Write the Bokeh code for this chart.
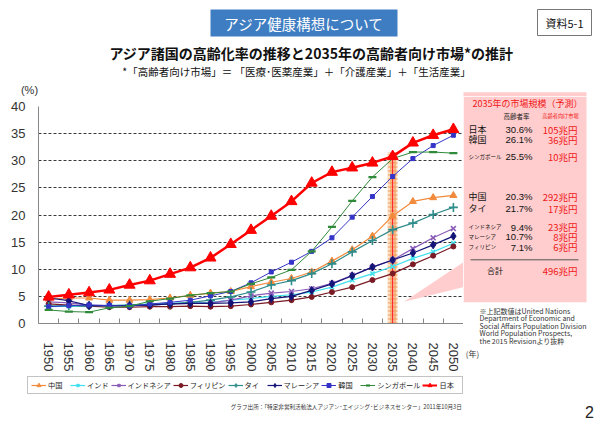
from bokeh.plotting import figure
from bokeh.layouts import column, row
from bokeh.models import (FixedTicker, Label, Legend, LegendItem, Range1d, ColumnDataSource)
from bokeh.embed import file_html
from bokeh.resources import INLINE

# ---------------- data ----------------
years = [1950, 1955, 1960, 1965, 1970, 1975, 1980, 1985, 1990, 1995, 2000,
         2005, 2010, 2015, 2020, 2025, 2030, 2035, 2040, 2045, 2050]
china = [4.5, 4.7, 4.7, 4.3, 4.3, 4.4, 4.7, 5.2, 5.6, 5.9, 6.8, 7.6, 8.3, 9.5, 11.5, 13.6, 16.1, 19.8, 22.5, 23.2, 23.6]
india = [3.1, 3.2, 3.1, 3.3, 3.4, 3.6, 3.7, 3.8, 3.9, 4.3, 4.6, 5.0, 5.3, 5.8, 6.7, 8.0, 9.2, 10.5, 12.0, 13.2, 14.8]
indonesia = [4.0, 3.8, 3.4, 3.3, 3.3, 3.4, 3.6, 3.7, 3.8, 4.3, 5.1, 5.6, 5.9, 6.4, 7.4, 8.9, 10.4, 11.7, 13.8, 15.8, 17.5]
philippines = [3.6, 3.4, 3.2, 3.0, 3.0, 3.1, 3.1, 3.2, 3.1, 3.2, 3.5, 3.9, 4.3, 4.9, 5.8, 6.7, 8.0, 9.2, 10.9, 12.5, 14.2]
thailand = [3.2, 3.3, 3.3, 3.3, 3.4, 3.5, 3.6, 3.9, 4.3, 4.9, 5.8, 7.1, 7.9, 9.2, 11.0, 13.2, 15.3, 17.3, 18.5, 20.1, 21.4]
malaysia = [4.7, 4.2, 3.3, 3.3, 3.3, 3.4, 3.6, 3.7, 3.7, 3.8, 4.0, 4.6, 5.0, 6.1, 7.3, 8.8, 10.4, 11.7, 13.0, 14.5, 16.1]
korea = [3.1, 3.3, 3.4, 3.3, 3.2, 3.6, 3.9, 4.3, 5.1, 5.9, 7.5, 9.5, 11.3, 13.3, 15.8, 19.6, 23.4, 27.1, 30.4, 32.8, 34.7]
singapore = [2.5, 2.2, 2.1, 2.9, 3.2, 4.1, 4.6, 5.2, 5.6, 5.9, 7.3, 8.5, 9.9, 13.3, 17.8, 22.6, 27.0, 30.4, 31.6, 31.6, 31.4]
japan = [4.9, 5.3, 5.7, 6.2, 7.1, 7.9, 9.1, 10.3, 12.1, 14.6, 17.2, 19.8, 22.5, 25.9, 27.9, 28.7, 29.6, 30.8, 33.3, 34.7, 35.8]

y_ticks = [0, 5, 10, 15, 20, 25, 30, 35, 40]
highlight_year = 2035

table_names = ["日本", "韓国", "シンガポール", "中国", "タイ", "インドネシア", "マレーシア", "フィリピン"]
table_rates = ["30.6%", "26.1%", "25.5%", "20.3%", "21.7%", "9.4%", "10.7%", "7.1%"]
table_market = ["105兆円", "36兆円", "10兆円", "292兆円", "17兆円", "23兆円", "8兆円", "6兆円"]
table_total = "496兆円"

series = [
    ("中国", china, "#F28A3C", "triangle", 7, 1.2),
    ("インド", india, "#3FE0EE", "x", 6, 1.2),
    ("インドネシア", indonesia, "#8A5CB8", "x", 7, 1.2),
    ("フィリピン", philippines, "#7A1A24", "circle", 5, 1.2),
    ("タイ", thailand, "#2E8C8A", "cross", 9, 1.2),
    ("マレーシア", malaysia, "#141478", "diamond", 8, 1.2),
    ("韓国", korea, "#3434C8", "square", 4, 1.0),
    ("シンガポール", singapore, "#2F8A3A", "dash", 8, 1.0),
    ("日本", japan, "#FF0000", "triangle", 11, 2.5),
]

JP = "Noto Sans CJK JP"
PINK = "#FFCDCD"
RED = "#F01818"

# page split
PW, PH = 600, 424
TOP_H = 96            # header strip
MID_H = 278           # chart strip
BOT_H = PH - TOP_H - MID_H
CHART_W = 463


def deco(w, h):
    f = figure(width=w, height=h, output_backend="svg", toolbar_location=None,
               x_range=Range1d(0, w), y_range=Range1d(h, 0), min_border=0,
               x_axis_type=None, y_axis_type=None, title=None)
    f.outline_line_color = None
    f.background_fill_color = "white"
    f.border_fill_color = "white"
    f.frame_align = False
    return f


def lab(f, text, x, y, size, color="#000000", align="left", font=JP, style="normal"):
    f.add_layout(Label(x=x, y=y, text=text, text_font=font, text_font_size=size,
                       text_color=color, text_align=align, text_baseline="middle",
                       text_font_style=style))


# ---------------- header ----------------
hd = deco(PW, TOP_H)
hd.quad(left=[210], right=[397], top=[9], bottom=[36], fill_color="#3E7DC2", line_color=None)
lab(hd, "アジア健康構想について", 303.5, 22.5, "14.5px", "white", "center")
hd.quad(left=[537], right=[591], top=[9], bottom=[35], fill_color="white", line_color="#777777")
lab(hd, "資料5-1", 564, 22, "11px", "#111111", "center")
lab(hd, "アジア諸国の高齢化率の推移と2035年の高齢者向け市場*の推計", 311, 52, "14px",
    "#111111", "center", style="bold")
lab(hd, "*「高齢者向け市場」＝ 「医療･医薬産業」＋「介護産業」＋「生活産業」", 296, 71,
    "10.5px", "#111111", "center")
lab(hd, "(%)", 29, 89, "11px", "#333333", "center", font="Liberation Sans")
hd.quad(left=[CHART_W], right=[586], top=[91.7], bottom=[TOP_H], fill_color=PINK, line_color=None)

# ---------------- chart ----------------
p = figure(width=CHART_W, height=MID_H, output_backend="svg", toolbar_location=None,
           x_range=Range1d(1947.5, 2052.5), y_range=Range1d(0, 40), title=None,
           min_border_left=38, min_border_right=0, min_border_top=10,
           min_border_bottom=51)
p.frame_align = False
p.outline_line_color = None
p.background_fill_color = "white"
p.border_fill_color = "white"

p.xgrid.grid_line_color = None
p.yaxis.ticker = FixedTicker(ticks=y_ticks)
p.ygrid.grid_line_color = "#3a3a3a"
p.ygrid.grid_line_dash = "3 2"
p.ygrid.grid_line_width = 1

p.yaxis.axis_line_color = "#888888"
p.yaxis.major_tick_line_color = None
p.yaxis.minor_tick_line_color = None
p.yaxis.major_label_text_font = "Liberation Sans"
p.yaxis.major_label_text_font_size = "13px"
p.yaxis.major_label_text_color = "#333333"
p.yaxis.major_label_standoff = 7

boundaries = [y - 2.5 for y in years] + [years[-1] + 2.5]
p.xaxis.ticker = FixedTicker(ticks=years, minor_ticks=boundaries)
p.xaxis.axis_line_color = "#888888"
p.xaxis.major_tick_line_color = None
p.xaxis.minor_tick_line_color = "#888888"
p.xaxis.minor_tick_in = 5
p.xaxis.minor_tick_out = 0
p.xaxis.major_label_orientation = "vertical"
p.xaxis.major_label_text_font = "Liberation Sans"
p.xaxis.major_label_text_font_size = "13px"
p.xaxis.major_label_text_color = "#333333"
p.xaxis.major_label_standoff = 13

# callout wedge toward the table
callout_x = [2037.8, 2052.5, 2052.5]
callout_y = [4.0, 11.3, 6.7]
p.patch(callout_x, callout_y, fill_color=PINK, line_color=None)

# 2035 highlight band
hi = years.index(highlight_year)
band_top = japan[hi] + 0.8
p.vbar(x=[highlight_year], width=2.4, top=[band_top], bottom=0,
       fill_color="#FDE2CA", line_color=None, hatch_pattern="+",
       hatch_color="#F39A55", hatch_scale=4, hatch_weight=1.2)
p.segment(x0=[highlight_year], y0=[0], x1=[highlight_year], y1=[band_top],
          line_color="#FF2020", line_width=1.2)


def draw(fig, xs, vals, col, mk, sz, lw):
    src = ColumnDataSource(dict(x=xs, y=vals))
    r1 = fig.line("x", "y", source=src, line_color=col, line_width=lw)
    if mk in ("x", "cross", "dash"):
        r2 = fig.scatter("x", "y", source=src, marker=mk, size=sz, line_color=col,
                         line_width=1.6 if mk != "dash" else 2.2)
    else:
        r2 = fig.scatter("x", "y", source=src, marker=mk, size=sz, fill_color=col,
                         line_color=col)
    return r1, r2


for name, vals, col, mk, sz, lw in series:
    draw(p, years, vals, col, mk, sz, lw)

# ---------------- table panel ----------------
TX = CHART_W          # page x of table strip
TY = TOP_H            # page y of table strip
tb = deco(PW - CHART_W, MID_H)


def tl(text, X, Y, size, color="#111111", align="left", font=JP):
    lab(tb, text, X - TX, Y - TY, size, color, align, font)


tb.quad(left=[0], right=[586 - TX], top=[0], bottom=[301.7 - TY], fill_color=PINK, line_color=None)
tl("2035年の市場規模（予測）", 527, 103, "9px", RED, "center")
tl("高齢者率", 516, 115, "6.5px", "#222222", "center")
tl("高齢者向け市場", 560, 115, "5.2px", RED, "center")
row_y = [129.3, 139.3, 156, 196, 208.3, 226.7, 236, 246.7]
name_size = ["9px", "9px", "5.5px", "9px", "9px", "5.5px", "5.5px", "5.5px"]
for nm, rt, mk_, yy, ns in zip(table_names, table_rates, table_market, row_y, name_size):
    tl(nm, 468, yy, ns)
    tl(rt, 532, yy, "9.5px", "#111111", "right", "Liberation Sans")
    tl(mk_, 577, yy, "9.5px", RED, "right")
tb.segment(x0=[470 - TX], y0=[259.3 - TY], x1=[578 - TX], y1=[259.3 - TY],
           line_color="#555555", line_width=1)
tl("合計", 494.5, 270, "8px", "#111111", "center")
tl(table_total, 577, 270, "9.5px", RED, "right")

notes = ["※上記数値はUnited Nations", "Department of Economic and",
         "Social Affairs Population Division", "World Population Prospects,",
         "the 2015 Revisionより抜粋"]
for i, t in enumerate(notes):
    tl(t, 479, 310 + i * 7.6, "7px", "#333333")
tl("(年)", 472, 353, "8px", "#333333", "center")

# ---------------- footer with legend ----------------
ft = deco(PW, BOT_H)
items = []
for name, vals, col, mk, sz, lw in series:
    # off-canvas sample point so that the legend swatch has a style to draw
    r1, r2 = draw(ft, [-100.0], [-100.0], col, mk, min(sz, 8), min(lw, 2.0))
    items.append(LegendItem(label=name, renderers=[r1, r2]))
legend = Legend(items=items, location=(27, PH - 394), orientation="horizontal",
                label_text_font=JP, label_text_font_size="7.2px",
                label_text_color="#222222",
                glyph_width=15, glyph_height=10, label_height=10,
                label_standoff=2, spacing=2, padding=3, margin=0,
                border_line_color="#888888", border_line_width=1,
                background_fill_color="white", background_fill_alpha=1)
ft.add_layout(legend)
FY0 = TOP_H + MID_H
lab(ft, "グラフ出所：「特定非営利活動法人アジアン･エイジング･ビジネスセンター」2011年10月3日",
    346, 406 - FY0, "5.6px", "#333333", "center")
lab(ft, "2", 589, 411 - FY0, "16px", "#222222", "center", font="Liberation Sans")

page = column(hd, row(p, tb, spacing=0), ft, spacing=0)
open("out.html", "w").write(file_html(page, INLINE))
